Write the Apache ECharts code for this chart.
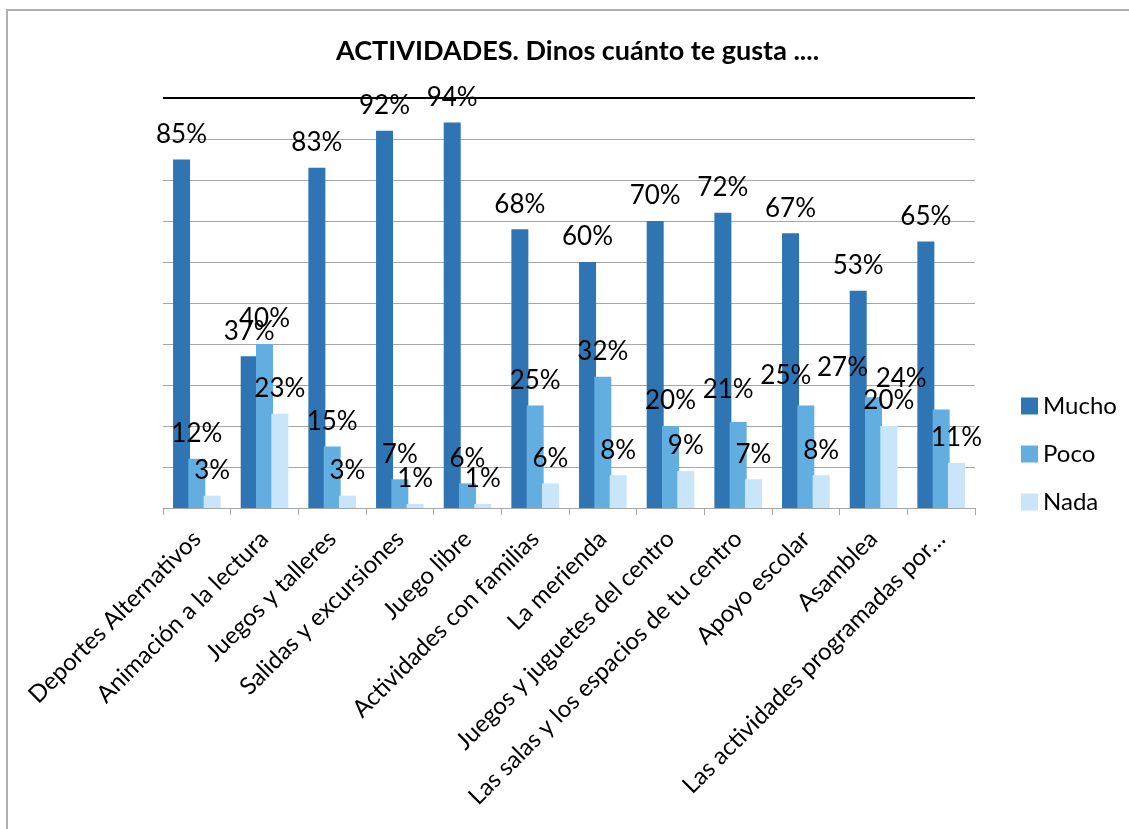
<!DOCTYPE html>
<html>
<head>
<meta charset="utf-8">
<title>ACTIVIDADES</title>
<script src="https://cdn.jsdelivr.net/npm/echarts@6/dist/echarts.min.js"></script>
<style>
    html, body { margin: 0; padding: 0; background: #fff; }
    #chart { width: 1129px; height: 829px; }
</style>
</head>
<body>
<div id="chart"></div>
<script>
    // datos
    var categorias = [
        'Deportes Alternativos',
        'Animación a la lectura',
        'Juegos y talleres',
        'Salidas y excursiones',
        'Juego libre',
        'Actividades con familias',
        'La merienda',
        'Juegos y juguetes del centro',
        'Las salas y los espacios de tu centro',
        'Apoyo escolar',
        'Asamblea',
        'Las actividades programadas por…'
    ];
    var mucho = [85, 37, 83, 92, 94, 68, 60, 70, 72, 67, 53, 65];
    var poco  = [12, 40, 15, 7, 6, 25, 32, 20, 21, 25, 27, 24];
    var nada  = [3, 23, 3, 1, 1, 6, 8, 9, 7, 8, 20, 11];
    var nombres = ['Mucho', 'Poco', 'Nada'];

    // etiquetas de "Poco" movidas a mano en el original
    var desplazaPoco = { 8: [-10, -7], 9: [-20, -5], 10: [-31, -5], 11: [-40, -6] };

    var fuente = 'Lato';
    var colores = ['#2f75b3', '#62aee0', '#c8e5fa'];

    function serie(nombre, valores, color, desplaza) {
        return {
            name: nombre,
            type: 'bar',
            barWidth: 17,
            barGap: '-10%',
            itemStyle: { color: color },
            label: {
                show: true,
                position: 'top',
                distance: 12,
                formatter: '{c}%',
                color: '#000',
                fontFamily: fuente,
                fontSize: 26
            },
            data: valores.map(function (v, i) {
                if (desplaza && desplaza[i]) {
                    return { value: v, label: { offset: desplaza[i] } };
                }
                return v;
            })
        };
    }

    function grafico() {
        var series = [
            serie(nombres[0], mucho, colores[0]),
            serie(nombres[1], poco, colores[1], desplazaPoco),
            serie(nombres[2], nada, colores[2])
        ];
        // línea negra superior
        series[0].markLine = {
            silent: true,
            symbol: 'none',
            label: { show: false },
            lineStyle: { color: '#000', width: 2, type: 'solid' },
            data: [{ yAxis: 100 }]
        };

        var option = {
            backgroundColor: '#fff',
            animation: false,
            textStyle: { fontFamily: fuente },
            title: {
                text: 'ACTIVIDADES. Dinos cuánto te gusta ....',
                left: 331,
                top: 33,
                textStyle: { fontFamily: fuente, fontWeight: 'bold', fontSize: 27, color: '#000' }
            },
            legend: {
                orient: 'vertical',
                left: 1016,
                top: 389,
                itemWidth: 17,
                itemHeight: 17,
                itemGap: 24,
                icon: 'rect',
                data: nombres,
                textStyle: { fontFamily: fuente, fontSize: 24, color: '#000', lineHeight: 24 }
            },
            grid: { left: 163, right: 154, top: 98, bottom: 321, containLabel: false },
            xAxis: {
                type: 'category',
                data: categorias,
                axisLine: { lineStyle: { color: '#a6a6a6', width: 1 } },
                axisTick: { show: true, length: 7, lineStyle: { color: '#a6a6a6' } },
                axisLabel: {
                    interval: 0,
                    rotate: 45,
                    margin: 27,
                    fontFamily: fuente,
                    fontSize: 24,
                    color: '#000'
                }
            },
            yAxis: {
                type: 'value',
                min: 0,
                max: 100,
                interval: 10,
                axisLine: { show: false },
                axisTick: { show: false },
                axisLabel: { show: false },
                splitLine: { lineStyle: { color: '#a6a6a6', width: 1 } }
            },
            graphic: [{
                type: 'rect',
                silent: true,
                shape: { x: 7, y: 10, width: 1300, height: 1000 },
                style: { fill: 'none', stroke: '#b0b0b0', lineWidth: 2 }
            }],
            series: series
        };

        var myChart = echarts.init(document.getElementById('chart'));
        myChart.setOption(option);
    }

    grafico();
</script>
</body>
</html>
